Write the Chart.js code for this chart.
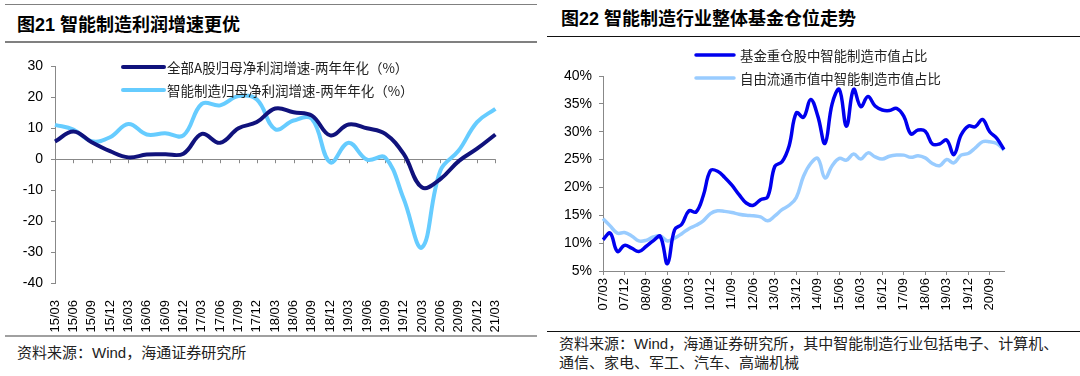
<!DOCTYPE html>
<html>
<head>
<meta charset="utf-8">
<script src="https://cdn.jsdelivr.net/npm/chart.js@4.4.1/dist/chart.umd.min.js"></script>
<style>
body { margin: 0; width: 1080px; height: 376px; background: #fff; position: relative; overflow: hidden;
       font-family: "Liberation Sans", "Noto Sans CJK SC", sans-serif; }
.abs { position: absolute; white-space: nowrap; }
.title { font-weight: bold; font-size: 18px; color: #000; line-height: 20px; }
.src { font-size: 15px; color: #222; line-height: 19px; }
canvas { position: absolute; }
</style>
</head>
<body>
<!-- left panel -->
<div class="abs" style="left:5px;top:4px;width:532px;border-top:1px solid #808080"></div>
<div class="abs title" style="left:17px;top:15px">图21 智能制造利润增速更优</div>
<div class="abs" style="left:5px;top:41px;width:532px;border-top:2px solid #808080"></div>
<canvas id="leftChart" width="520" height="285" style="left:0;top:50px"></canvas>
<div class="abs" style="left:5px;top:335px;width:532px;border-top:2px solid #a0a0a0"></div>
<div class="abs src" style="left:17px;top:343px">资料来源：Wind，海通证券研究所</div>

<!-- right panel -->
<div class="abs title" style="left:561px;top:9px">图22 智能制造行业整体基金仓位走势</div>
<div class="abs" style="left:547px;top:36px;width:533px;border-top:1.5px solid #111"></div>
<canvas id="rightChart" width="470" height="290" style="left:545px;top:40px"></canvas>
<div class="abs" style="left:547px;top:331px;width:533px;border-top:1px solid #111"></div>
<div class="abs src" style="left:559px;top:334px">资料来源：Wind，海通证券研究所，其中智能制造行业包括电子、计算机、<br>通信、家电、军工、汽车、高端机械</div>

<script>
// ── Left chart data (quarterly, two-year annualised growth, %) ──
const leftLabels = ['15/03','15/06','15/09','15/12','16/03','16/06','16/09','16/12',
                    '17/03','17/06','17/09','17/12','18/03','18/06','18/09','18/12',
                    '19/03','19/06','19/09','19/12','20/03','20/06','20/09','20/12','21/03'];
const allAGrowth   = [5.7, 9.0, 5.5, 2.6, 0.6, 1.5, 1.6, 1.8, 8.2, 5.3, 10.0, 12.0, 16.4,
                      15.2, 14.1, 7.7, 11.2, 10.0, 8.2, 1.7, -9.1, -6.4, -0.6, 3.4, 8.0];
const smartGrowth  = [11.1, 9.6, 5.8, 7.1, 11.4, 8.0, 8.4, 7.7, 17.9, 17.4, 20.4, 19.3, 9.7,
                      12.5, 13.0, -1.0, 5.3, -0.1, 0.5, -12.8, -28.5, -3.7, 2.8, 12.0, 16.3];
const leftTicks    = [-40, -30, -20, -10, 0, 10, 20, 30];

// ── Right chart data (quarterly, %) ──
const rightLabels = ['07/03','07/06','07/09','07/12','08/03','08/06','08/09','08/12',
                     '09/03','09/06','09/09','09/12','10/03','10/06','10/09','10/12',
                     '11/03','11/06','11/09','11/12','12/03','12/06','12/09','12/12',
                     '13/03','13/06','13/09','13/12','14/03','14/06','14/09','14/12',
                     '15/03','15/06','15/09','15/12','16/03','16/06','16/09','16/12',
                     '17/03','17/06','17/09','17/12','18/03','18/06','18/09','18/12',
                     '19/03','19/06','19/09','19/12','20/03','20/06','20/09','20/12','21/03'];
const fundShare = [10.6, 11.8, 8.5, 9.6, 9.1, 8.5, 9.4, 10.4, 11.2, 6.3, 12.4, 13.4, 15.8, 15.6,
                   18.5, 23.0, 22.9, 21.8, 20.4, 18.7, 17.2, 16.8, 17.8, 18.3, 23.8, 24.6, 27.5, 33.4,
                   32.6, 35.8, 32.8, 27.9, 35.0, 37.6, 31.0, 37.6, 34.5, 36.3, 34.6, 33.9, 33.8, 34.2,
                   32.8, 29.6, 30.3, 30.1, 27.8, 27.8, 28.5, 25.9, 29.4, 31.0, 30.9, 32.2, 30.0, 28.8, 26.8];
const freeShare = [14.4, 13.1, 11.8, 11.9, 11.3, 10.4, 10.5, 11.1, 11.3, 10.4, 10.9, 11.7, 12.6, 13.2,
                   14.0, 15.3, 15.8, 15.7, 15.5, 15.2, 15.0, 14.9, 14.7, 14.0, 14.9, 16.0, 16.8, 18.2,
                   22.0, 24.3, 25.2, 21.7, 23.9, 25.2, 24.9, 26.0, 25.1, 26.2, 25.5, 25.1, 25.6, 25.8,
                   25.8, 25.4, 25.7, 25.3, 24.3, 23.9, 25.0, 24.4, 25.8, 26.1, 27.1, 28.2, 28.2, 27.9, 26.7];
const rightTicks = [5, 10, 15, 20, 25, 30, 35, 40];

const FONT = '"Liberation Sans", "Noto Sans CJK SC", sans-serif';
const CJK  = '"Noto Sans CJK SC", "Liberation Sans", sans-serif';
Chart.defaults.font.family = FONT;

// ── Legend drawn inside the plot ──
const inLegend = {
    id: 'inLegend',
    afterDraw(chart, args, opts) {
        const ctx = chart.ctx;
        ctx.save();
        ctx.font = opts.font;
        ctx.textBaseline = 'middle';
        opts.items.forEach((it, i) => {
            const ds = chart.data.datasets[i];
            ctx.strokeStyle = ds.borderColor;
            ctx.lineWidth = ds.borderWidth;
            ctx.lineCap = 'round';
            ctx.beginPath();
            ctx.moveTo(it.x, it.y);
            ctx.lineTo(it.x + opts.lineLen, it.y);
            ctx.stroke();
            ctx.fillStyle = opts.color;
            ctx.fillText(ds.label, it.x + opts.lineLen + opts.gap, it.y + 1);
        });
        ctx.restore();
    }
};

// ── Small tick marks on the zero line ──
const zeroTicks = {
    id: 'zeroTicks',
    beforeDatasetsDraw(chart) {
        const xs = chart.scales.x, ys = chart.scales.y;
        const y0 = ys.getPixelForValue(0);
        const ctx = chart.ctx;
        ctx.save();
        ctx.strokeStyle = '#888';
        ctx.lineWidth = 1;
        ctx.beginPath();
        for (let i = 1; i < chart.data.labels.length; i++) {
            const px = Math.round(xs.getPixelForValue(i)) + 0.5;
            ctx.moveTo(px, y0);
            ctx.lineTo(px, y0 + 4);
        }
        ctx.stroke();
        ctx.restore();
    }
};

// ── Left chart ──
new Chart(document.getElementById('leftChart'), {
    type: 'line',
    data: {
        labels: leftLabels,
        datasets: [
            { label: '全部A股归母净利润增速-两年年化（%）', data: allAGrowth,
              borderColor: '#10127c', borderWidth: 4, pointRadius: 0, tension: 0.4 },
            { label: '智能制造归母净利润增速-两年年化（%）', data: smartGrowth,
              borderColor: '#66ccff', borderWidth: 4, pointRadius: 0, tension: 0.4 }
        ]
    },
    options: {
        responsive: false,
        animation: false,
        layout: { padding: { top: 16, right: 18, left: 0, bottom: 0 } },
        plugins: {
            legend: { display: false },
            tooltip: { enabled: false },
            inLegend: {
                font: '13.5px ' + CJK, color: '#222', lineLen: 41, gap: 3,
                items: [{ x: 123, y: 17 }, { x: 123, y: 40 }]
            }
        },
        scales: {
            x: {
                grid: { display: false },
                border: { display: false },
                ticks: { autoSkip: false, minRotation: 90, maxRotation: 90, padding: 9,
                         font: { size: 13 }, color: '#000' },
                afterFit(s) { s.height = 52; }
            },
            y: {
                min: -40, max: 30,
                afterBuildTicks(s) { s.ticks = leftTicks.map(v => ({ value: v })); },
                ticks: { font: { size: 14 }, color: '#000', padding: 8 },
                grid: { color: c => (c.tick && c.tick.value === 0) ? '#888' : 'rgba(0,0,0,0)',
                        tickColor: '#888', tickLength: 4 },
                border: { color: '#888' },
                afterFit(s) { s.width = 55; }
            }
        }
    },
    plugins: [inLegend, zeroTicks]
});

// ── Right chart ──
new Chart(document.getElementById('rightChart'), {
    type: 'line',
    data: {
        labels: rightLabels,
        datasets: [
            { label: '基金重仓股中智能制造市值占比', data: fundShare,
              borderColor: '#0000ee', borderWidth: 3.5, pointRadius: 0, tension: 0.4 },
            { label: '自由流通市值中智能制造市值占比', data: freeShare,
              borderColor: '#99ccff', borderWidth: 3.5, pointRadius: 0, tension: 0.4 }
        ]
    },
    options: {
        responsive: false,
        animation: false,
        layout: { padding: { top: 36, right: 11, left: 0, bottom: 0 } },
        plugins: {
            legend: { display: false },
            tooltip: { enabled: false },
            inLegend: {
                font: '13.4px ' + CJK, color: '#222', lineLen: 38, gap: 6,
                items: [{ x: 151, y: 15 }, { x: 151, y: 38 }]
            }
        },
        scales: {
            x: {
                grid: { display: true, drawOnChartArea: false, color: '#888', tickLength: 4 },
                border: { color: '#888' },
                ticks: {
                    autoSkip: false, minRotation: 90, maxRotation: 90, padding: 3,
                    font: { size: 13 }, color: '#000',
                    callback(v, i) { return i % 3 === 0 ? this.getLabelForValue(v) : null; }
                },
                afterFit(s) { s.height = 59; }
            },
            y: {
                min: 5, max: 40,
                afterBuildTicks(s) { s.ticks = rightTicks.map(v => ({ value: v })); },
                ticks: { font: { size: 14 }, color: '#000', padding: 7, callback: v => v + '%' },
                grid: { display: true, drawOnChartArea: false, color: '#888', tickLength: 4 },
                border: { color: '#888' },
                afterFit(s) { s.width = 58; }
            }
        }
    },
    plugins: [inLegend]
});
</script>
</body>
</html>
